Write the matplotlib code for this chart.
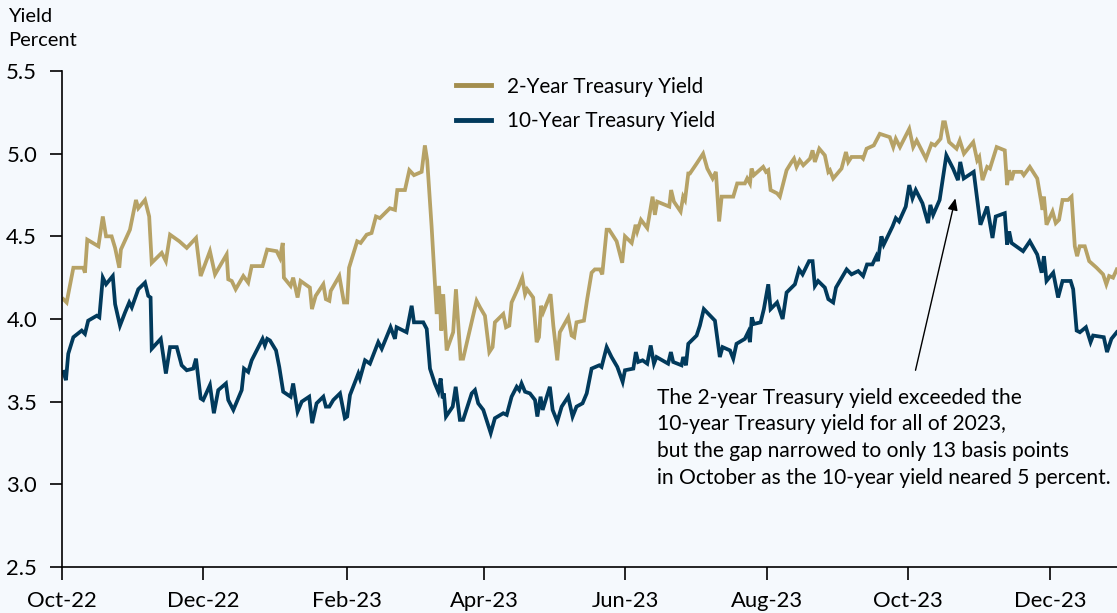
import numpy as np
import matplotlib
matplotlib.use("Agg")
import matplotlib.pyplot as plt

# ---- data (x = days since 2022-10-01) ----
days_2y = [0.6, 2.0, 4.9, 9.2, 9.9, 10.9, 15.7, 17.6, 19.0, 21.4, 22.9, 24.7, 25.4, 29.3, 31.9, 32.9, 35.8, 37.6,
           38.7, 43.0, 44.8, 46.6, 50.6, 53.8, 57.8, 59.8, 63.8, 66.0, 71.0, 71.7, 73.2, 74.9, 78.2, 80.3, 81.8,
           86.5, 87.1, 88.5, 92.6, 94.0, 95.2, 95.7, 98.6, 99.7, 101.6, 102.9, 106.9, 107.8, 109.4, 112.7, 113.8,
           115.3, 115.9, 119.6, 121.6, 123.0, 123.8, 127.3, 128.8, 131.4, 133.5, 135.4, 137.1, 141.4, 143.6, 144.6,
           147.9, 149.8, 151.8, 155.1, 156.5, 157.5, 159.4, 161.6, 162.6, 163.6, 164.4, 165.9, 168.7, 169.9, 171.9,
           173.0, 178.8, 180.3, 182.4, 184.3, 185.7, 186.7, 190.3, 191.5, 192.9, 193.9, 196.8, 198.5, 199.7, 200.6,
           203.2, 204.7, 205.7, 206.6, 207.5, 210.7, 211.9, 213.6, 214.7, 218.3, 219.8, 220.9, 221.9, 225.1, 226.5,
           228.4, 229.8, 232.0, 233.0, 234.9, 236.0, 239.2, 241.6, 242.8, 245.7, 247.4, 248.1, 249.7, 252.4, 254.7,
           255.7, 256.7, 261.9, 262.7, 263.9, 266.8, 267.9, 268.7, 270.1, 270.8, 273.7, 276.5, 278.3, 280.6, 282.0,
           283.4, 284.5, 289.5, 291.2, 294.5, 295.5, 296.7, 297.4, 298.4, 302.4, 303.6, 304.6, 305.6, 308.4, 309.6,
           312.5, 314.7, 315.7, 316.8, 318.2, 319.7, 322.6, 323.7, 324.7, 326.6, 329.0, 330.5, 331.2, 332.6, 336.2,
           338.1, 339.1, 340.5, 344.8, 345.5, 347.0, 350.1, 352.7, 354.9, 357.0, 358.5, 359.6, 361.4, 365.4, 367.1,
           368.6, 372.6, 375.0, 376.5, 378.9, 380.0, 380.8, 382.6, 385.8, 387.2, 389.0, 393.0, 394.7, 395.6, 397.0,
           399.0, 400.2, 403.1, 406.6, 407.6, 408.5, 409.5, 410.5, 413.8, 414.8, 417.4, 420.6, 422.9, 423.5, 424.6,
           427.2, 428.6, 430.0, 431.5, 433.9, 435.4, 436.8, 437.8, 438.9, 441.1, 443.0, 446.2, 449.0, 450.4, 451.6,
           453.3, 454.9]
yield_2y = [4.12, 4.10, 4.31, 4.31, 4.28, 4.48, 4.44, 4.62, 4.50, 4.50, 4.43, 4.31, 4.42, 4.54, 4.72, 4.67, 4.72, 4.62,
            4.34, 4.40, 4.35, 4.51, 4.47, 4.43, 4.49, 4.26, 4.41, 4.27, 4.39, 4.24, 4.23, 4.18, 4.26, 4.22, 4.32,
            4.32, 4.35, 4.42, 4.41, 4.37, 4.46, 4.25, 4.20, 4.25, 4.13, 4.23, 4.19, 4.06, 4.14, 4.21, 4.12,
            4.11, 4.17, 4.26, 4.10, 4.10, 4.31, 4.47, 4.46, 4.51, 4.52, 4.62, 4.61, 4.67, 4.66, 4.78,
            4.78, 4.90, 4.87, 4.89, 5.05, 4.96, 4.56, 4.03, 4.20, 3.93, 4.15, 3.81, 3.92, 4.18, 3.76,
            3.76, 4.11, 4.07, 4.02, 3.80, 3.83, 3.98, 4.03, 3.95, 3.96, 4.10, 4.19, 4.25, 4.15, 4.18,
            4.13, 3.86, 3.89, 4.08, 4.04, 4.15, 3.96, 3.75, 3.92, 4.01, 3.90, 3.89, 3.98, 3.99, 4.12,
            4.28, 4.30, 4.30, 4.27, 4.54, 4.54, 4.47, 4.34, 4.50, 4.46, 4.57, 4.53, 4.60, 4.55, 4.74,
            4.63, 4.71, 4.68, 4.78, 4.71, 4.65, 4.74, 4.72, 4.88, 4.88, 4.94, 5.00, 4.91, 4.85, 4.89,
            4.59, 4.74, 4.74, 4.82, 4.82, 4.85, 4.82, 4.91, 4.87, 4.92, 4.89, 4.90, 4.78, 4.76, 4.74,
            4.90, 4.95, 4.97, 4.92, 4.96, 4.93, 4.97, 5.02, 4.95, 5.03, 4.99, 4.89, 4.90, 4.85, 4.91,
            5.01, 4.95, 4.98, 4.98, 4.97, 5.03, 5.05, 5.12, 5.11, 5.10, 5.04, 5.09, 5.04, 5.15, 5.04,
            5.08, 4.97, 5.06, 5.05, 5.09, 5.19, 5.19, 5.07, 5.03, 5.08, 5.00, 5.07, 4.96, 4.98, 4.84,
            4.92, 4.91, 5.04, 5.02, 4.81, 4.90, 4.84, 4.89, 4.89, 4.87, 4.92, 4.85, 4.66, 4.74, 4.57,
            4.65, 4.58, 4.60, 4.72, 4.72, 4.74, 4.44, 4.38, 4.44, 4.44, 4.35, 4.31, 4.27, 4.21, 4.26,
            4.25, 4.30]

days_10y = [0.6, 1.7, 2.7, 4.9, 8.5, 9.9, 11.3, 15.0, 16.1, 17.6, 19.0, 21.9, 22.9, 25.0, 27.2, 29.0, 30.1, 32.9,
            35.8, 37.2, 38.2, 38.7, 42.6, 44.8, 46.6, 49.5, 51.6, 53.8, 56.6, 57.8, 59.8, 60.9, 63.8, 65.5, 67.4,
            70.7, 71.7, 73.9, 77.5, 78.5, 80.3, 81.8, 86.5, 87.5, 88.5, 89.7, 92.3, 93.7, 95.4, 98.6, 99.7, 101.6,
            103.4, 106.6, 107.9, 109.8, 112.7, 113.8, 115.3, 117.0, 119.9, 122.0, 123.0, 124.2, 127.8, 128.5, 130.7,
            132.8, 136.4, 137.9, 141.7, 143.6, 144.3, 148.6, 150.8, 151.8, 155.8, 157.3, 158.7, 160.8, 162.3, 163.3,
            164.2, 164.7, 165.6, 168.5, 169.8, 171.6, 173.0, 176.7, 178.1, 179.5, 181.7, 184.9, 186.7, 190.3, 191.8,
            193.9, 196.1, 197.2, 198.2, 199.7, 201.8, 204.0, 205.0, 206.4, 207.3, 210.4, 211.6, 213.6, 215.5, 218.3,
            220.2, 221.9, 224.5, 226.3, 228.4, 231.7, 232.7, 234.9, 237.0, 239.5, 241.8, 242.8, 246.4, 247.5, 248.5,
            250.4, 252.4, 253.9, 255.3, 256.4, 261.4, 262.6, 263.6, 267.2, 267.9, 269.1, 270.1, 273.7, 275.1, 276.8,
            281.6, 283.7, 284.9, 288.1, 289.5, 290.9, 294.5, 295.9, 296.7, 297.5, 298.4, 301.3, 302.7, 304.6, 305.6,
            308.4, 310.8, 312.5, 316.1, 317.9, 319.4, 322.2, 323.7, 324.7, 326.1, 329.0, 330.5, 332.6, 333.8, 338.4,
            340.5, 343.4, 345.5, 347.2, 349.5, 351.2, 351.9, 353.4, 354.4, 358.2, 359.6, 361.0, 363.9, 365.4, 366.8,
            368.2, 371.1, 373.5, 374.5, 375.7, 378.5, 381.4, 384.3, 386.4, 387.4, 388.9, 393.2, 396.1, 399.0, 401.3,
            402.7, 406.6, 407.6, 408.5, 409.5, 414.5, 417.4, 420.6, 422.5, 423.5, 424.6, 427.5, 429.6, 431.5, 435.0,
            436.1, 437.6, 439.0, 441.6, 443.6, 444.7, 449.3, 450.7, 452.6, 454.9]
yield_10y = [3.68, 3.63, 3.79, 3.89, 3.93, 3.91, 3.99, 4.02, 4.01, 4.25, 4.21, 4.26, 4.09, 3.96, 4.04, 4.10, 4.07, 4.18,
             4.22, 4.14, 4.13, 3.82, 3.88, 3.67, 3.83, 3.83, 3.72, 3.69, 3.70, 3.76, 3.52, 3.51, 3.60, 3.43, 3.57,
             3.61, 3.51, 3.45, 3.57, 3.70, 3.68, 3.75, 3.88, 3.84, 3.88, 3.87, 3.81, 3.71, 3.56, 3.53, 3.61, 3.44,
             3.50, 3.53, 3.37, 3.49, 3.53, 3.47, 3.47, 3.51, 3.55, 3.40, 3.41, 3.54, 3.67, 3.64, 3.75,
             3.73, 3.86, 3.82, 3.95, 3.88, 3.95, 3.92, 4.08, 3.98, 3.98, 3.94, 3.70, 3.61, 3.56, 3.64,
             3.52, 3.55, 3.41, 3.47, 3.59, 3.39, 3.39, 3.55, 3.57, 3.49, 3.45, 3.31, 3.40, 3.43, 3.42,
             3.53, 3.59, 3.57, 3.61, 3.56, 3.55, 3.51, 3.41, 3.53, 3.45, 3.59, 3.45, 3.38, 3.47, 3.53,
             3.41, 3.47, 3.49, 3.55, 3.70, 3.72, 3.71, 3.83, 3.77, 3.71, 3.62, 3.69, 3.70, 3.80, 3.74,
             3.75, 3.73, 3.84, 3.73, 3.77, 3.73, 3.80, 3.74, 3.72, 3.77, 3.72, 3.85, 3.90, 3.96, 4.06,
             3.99, 3.77, 3.83, 3.81, 3.76, 3.85, 3.88, 3.92, 3.86, 4.01, 3.97, 3.98, 4.06, 4.21, 4.06,
             4.10, 4.00, 4.16, 4.21, 4.30, 4.27, 4.35, 4.35, 4.20, 4.23, 4.19, 4.12, 4.10, 4.19, 4.30,
             4.27, 4.29, 4.26, 4.33, 4.33, 4.38, 4.35, 4.50, 4.45, 4.56, 4.61, 4.59, 4.68, 4.81, 4.73,
             4.78, 4.70, 4.58, 4.69, 4.63, 4.72, 4.99, 4.91, 4.84, 4.95, 4.85, 4.89, 4.57, 4.68, 4.49,
             4.62, 4.64, 4.45, 4.53, 4.46, 4.41, 4.47, 4.39, 4.28, 4.38, 4.23, 4.28, 4.13, 4.23, 4.23,
             4.18, 3.93, 3.92, 3.95, 3.86, 3.90, 3.89, 3.80, 3.88, 3.92]

tick_days = [0, 61, 123, 182, 243, 304, 365, 426]
tick_labels = ["Oct-22", "Dec-22", "Feb-23", "Apr-23", "Jun-23", "Aug-23", "Oct-23", "Dec-23"]
y_ticks = [2.5, 3.0, 3.5, 4.0, 4.5, 5.0, 5.5]

series_names = ["2-Year Treasury Yield", "10-Year Treasury Yield"]
note = ("The 2-year Treasury yield exceeded the\n"
        "10-year Treasury yield for all of 2023,\n"
        "but the gap narrowed to only 13 basis points\n"
        "in October as the 10-year yield neared 5 percent.")

# ---- style ----
plt.rcParams['font.family'] = ['Lato', 'DejaVu Sans']
BG = '#F5F9FD'
GOLD = '#B6A266'
NAVY = '#013A5C'
FS = 14.5
FS_LEG = 14.9
FS_TICK = 15.8
FS_NOTE = 15.1

fig = plt.figure(figsize=(11.17, 6.13), dpi=100, facecolor=BG)
ax = fig.add_axes([62 / 1117, 46 / 613, 1 - 62 / 1117, (567 - 71) / 613])
ax.set_facecolor(BG)

l2, = ax.plot(days_2y, yield_2y, color=GOLD, lw=2.7, solid_joinstyle='miter', label=series_names[0])
l10, = ax.plot(days_10y, yield_10y, color=NAVY, lw=2.7, solid_joinstyle='miter', label=series_names[1])

ax.set_xlim(0, 455)
ax.set_ylim(2.5, 5.5)
ax.set_yticks(y_ticks)
ax.set_yticklabels([f"{v:.1f}" for v in y_ticks], fontsize=FS_TICK)
ax.set_xticks(tick_days)
ax.set_xticklabels(tick_labels, fontsize=FS_TICK)
for s in ['top', 'right']:
    ax.spines[s].set_visible(False)
for s in ['left', 'bottom']:
    ax.spines[s].set_linewidth(1.2)
    ax.spines[s].set_color('black')
ax.tick_params(axis='both', direction='out', length=9, width=1.2, colors='black')
ax.tick_params(axis='x', pad=8)
ax.tick_params(axis='y', pad=9)

fig.text(8 / 1117, 1 - 8 / 613, "Yield\nPercent", ha='left', va='top', fontsize=FS, linespacing=1.5)

leg = ax.legend(handles=[l2, l10], loc='upper left', bbox_to_anchor=(375 / 1055, 1.026),
                frameon=False, fontsize=FS_LEG, handlelength=1.7, handletextpad=0.78, labelspacing=0.68)
leg.get_lines()[0].set_color('#A38E4E')
for ln in leg.get_lines():
    ln.set_linewidth(3.5)

ax.text(256.6, 3.585, note, ha='left', va='top', fontsize=FS_NOTE, linespacing=1.42)
ax.annotate("", xy=(385.3, 4.73), xytext=(368.1, 3.69),
            arrowprops=dict(arrowstyle='-|>,head_length=0.7,head_width=0.3', color='black', lw=1.0,
                            shrinkA=0, shrinkB=0))

fig.savefig("out.png", dpi=100, facecolor=BG)
